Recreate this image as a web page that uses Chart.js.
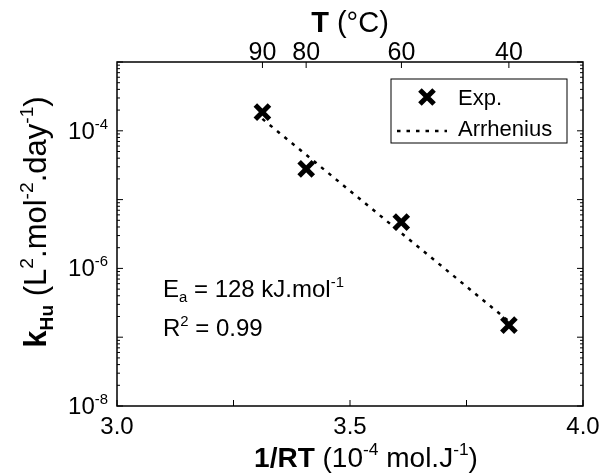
<!DOCTYPE html>
<html>
<head>
<meta charset="utf-8">
<script src="https://cdn.jsdelivr.net/npm/chart.js@4/dist/chart.umd.min.js"></script>
<style>
  html, body { margin: 0; padding: 0; background: #fff; }
  canvas { display: block; }
</style>
</head>
<body>
<canvas id="arrhenius" width="602" height="473"></canvas>
<script>
// Valeurs
const invRT = [3.312, 3.406, 3.610, 3.841];          // 1/RT (10^-4 mol/J)
const kHu = [1.87e-4, 2.8e-5, 4.7e-6, 1.5e-7];       // L2.mol-2.day-1
const fitX = [3.312, 3.841];                          // droite d'Arrhenius
const fitY = [1.49e-4, 1.70e-7];
const xTicks = [3.0, 3.25, 3.5, 3.75, 4.0];
const xTickLabels = ['3.0', '', '3.5', '', '4.0'];
const tempTicks = [90, 80, 60, 40];                   // axe du haut, °C
const yLabelExps = [-4, -6, -8];

const R = 8.314;
const FONT = '"Liberation Sans", Arial, sans-serif';

// 1/RT en 10^-4 mol/J pour une température en °C
function tempToInvRT(t) {
    return 1e4 / (R * (t + 273.15));
}

function partFont(p, size) {
    const s = p.s ? size * 0.62 : size;
    return (p.b ? 'bold ' : '') + s.toFixed(1) + 'px ' + FONT;
}

function richWidth(ctx, parts, size) {
    let w = 0;
    parts.forEach(p => {
        ctx.font = partFont(p, size);
        w += ctx.measureText(p.t).width;
    });
    return w;
}

// Texte avec exposants / indices
function drawRich(ctx, parts, x, y, size, align) {
    const w = richWidth(ctx, parts, size);
    let cx = align === 'center' ? x - w / 2 : (align === 'right' ? x - w : x);
    ctx.textAlign = 'left';
    ctx.textBaseline = 'alphabetic';
    parts.forEach(p => {
        ctx.font = partFont(p, size);
        let dy = 0;
        if (p.s === 'sup') dy = -size * 0.42;
        if (p.s === 'sub') dy = size * 0.22;
        ctx.fillText(p.t, cx, y + dy);
        cx += ctx.measureText(p.t).width;
    });
}

const axesPlugin = {
    id: 'axesPlugin',
    afterDraw(chart) {
        const ctx = chart.ctx;
        const a = chart.chartArea;
        const xs = chart.scales.x;
        const ys = chart.scales.y;
        ctx.save();
        ctx.fillStyle = '#000';
        ctx.strokeStyle = '#000';

        // cadre
        ctx.lineWidth = 1.5;
        ctx.strokeRect(a.left, a.top, a.right - a.left, a.bottom - a.top);

        // graduations de l'axe y (gauche et droite, vers l'intérieur)
        ctx.lineWidth = 1;
        ctx.beginPath();
        for (let e = -8; e <= -3; e++) {
            const py = ys.getPixelForValue(Math.pow(10, e));
            ctx.moveTo(a.left, py); ctx.lineTo(a.left + 6, py);
            ctx.moveTo(a.right, py); ctx.lineTo(a.right - 6, py);
            if (e < -3) {
                for (let m = 2; m <= 9; m++) {
                    const pm = ys.getPixelForValue(m * Math.pow(10, e));
                    ctx.moveTo(a.left, pm); ctx.lineTo(a.left + 3, pm);
                    ctx.moveTo(a.right, pm); ctx.lineTo(a.right - 3, pm);
                }
            }
        }
        // graduations x (bas)
        xTicks.forEach(v => {
            const px = xs.getPixelForValue(v);
            ctx.moveTo(px, a.bottom); ctx.lineTo(px, a.bottom - 6);
        });
        // graduations température (haut)
        tempTicks.forEach(t => {
            const px = xs.getPixelForValue(tempToInvRT(t));
            ctx.moveTo(px, a.top); ctx.lineTo(px, a.top + 6);
        });
        ctx.stroke();

        // étiquettes
        yLabelExps.forEach(e => {
            const py = ys.getPixelForValue(Math.pow(10, e));
            drawRich(ctx, [{ t: '10' }, { t: String(e), s: 'sup' }], a.left - 9, py + 8, 24, 'right');
        });
        xTicks.forEach((v, i) => {
            if (!xTickLabels[i]) return;
            drawRich(ctx, [{ t: xTickLabels[i] }], xs.getPixelForValue(v), a.bottom + 28, 24, 'center');
        });
        tempTicks.forEach(t => {
            drawRich(ctx, [{ t: String(t) }], xs.getPixelForValue(tempToInvRT(t)), a.top - 2, 25, 'center');
        });

        // titres des axes
        const cx = (a.left + a.right) / 2;
        drawRich(ctx, [{ t: 'T', b: true }, { t: ' (°C)' }], cx, 32, 29, 'center');
        drawRich(ctx, [
            { t: '1/RT', b: true }, { t: ' (10' }, { t: '-4', s: 'sup' },
            { t: ' mol.J' }, { t: '-1', s: 'sup' }, { t: ')' }
        ], cx + 16, 467, 28, 'center');

        ctx.save();
        ctx.translate(35, 222);
        ctx.rotate(-Math.PI / 2);
        drawRich(ctx, [
            { t: 'k', b: true }, { t: 'Hu', b: true, s: 'sub' }, { t: ' (L' }, { t: '2', s: 'sup' },
            { t: '.mol' }, { t: '-2', s: 'sup' }, { t: '.day' }, { t: '-1', s: 'sup' }, { t: ')' }
        ], 0, 11, 31, 'center');
        ctx.restore();

        // annotations
        drawRich(ctx, [{ t: 'E' }, { t: 'a', s: 'sub' }, { t: ' = 128 kJ.mol' }, { t: '-1', s: 'sup' }], a.left + 46, 297, 24, 'left');
        drawRich(ctx, [{ t: 'R' }, { t: '2', s: 'sup' }, { t: ' = 0.99' }], a.left + 46, 336, 24, 'left');

        // légende
        const lx = a.right - 192, ly = a.top + 17;
        ctx.lineWidth = 1;
        ctx.strokeRect(lx, ly, 176, 64);
        const exp = chart.data.datasets[0];
        ctx.lineWidth = exp.pointBorderWidth;
        Chart.helpers.drawPoint(ctx, {
            pointStyle: exp.pointStyle, radius: exp.pointRadius, borderWidth: exp.pointBorderWidth, rotation: 0
        }, lx + 36, ly + 18);
        const fit = chart.data.datasets[1];
        ctx.lineWidth = fit.borderWidth;
        ctx.setLineDash(fit.borderDash);
        ctx.beginPath();
        ctx.moveTo(lx + 6, ly + 52);
        ctx.lineTo(lx + 56, ly + 52);
        ctx.stroke();
        ctx.setLineDash([]);
        drawRich(ctx, [{ t: exp.label }], lx + 67, ly + 26, 22, 'left');
        drawRich(ctx, [{ t: fit.label }], lx + 67, ly + 57, 22, 'left');

        ctx.restore();
    }
};

new Chart(document.getElementById('arrhenius'), {
    type: 'scatter',
    data: {
        datasets: [{
            label: 'Exp.',
            data: invRT.map((x, i) => ({ x: x, y: kHu[i] })),
            pointStyle: 'crossRot',
            pointRadius: 10,
            pointBorderWidth: 5,
            borderColor: '#000',
            backgroundColor: '#000',
            showLine: false,
            order: 0
        }, {
            label: 'Arrhenius',
            type: 'line',
            data: fitX.map((x, i) => ({ x: x, y: fitY[i] })),
            borderColor: '#000',
            borderWidth: 2.5,
            borderDash: [3.5, 6],
            pointRadius: 0,
            fill: false,
            order: 1
        }]
    },
    options: {
        responsive: false,
        animation: false,
        layout: { padding: { left: 117, right: 19, top: 62, bottom: 67 } },
        scales: {
            x: { type: 'linear', min: 3.0, max: 4.0, display: false },
            y: { type: 'logarithmic', min: 1e-8, max: 1e-3, display: false }
        },
        plugins: {
            legend: { display: false },
            tooltip: { enabled: false }
        }
    },
    plugins: [axesPlugin]
});
</script>
</body>
</html>
